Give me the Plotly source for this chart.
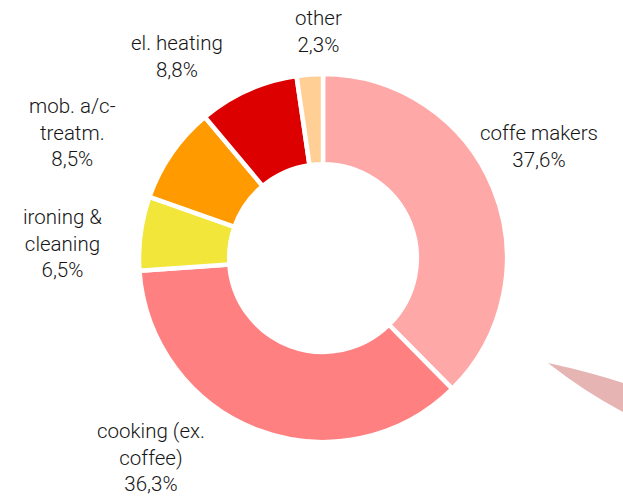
import plotly.graph_objects as go

categories = ["coffe makers", "cooking (ex.<br>coffee)", "ironing &<br>cleaning",
              "mob. a/c-<br>treatm.", "el. heating", "other"]
values = [37.6, 36.3, 6.5, 8.5, 8.8, 2.3]
colors = ["#FFA8A8", "#FF8080", "#F2E63A", "#FF9A00", "#DD0000", "#FFCF96"]

W, H = 623, 496
cx, cy, r = 323, 258, 184

fig = go.Figure(go.Pie(
    values=values,
    labels=[c.replace("<br>", " ") for c in categories],
    sort=False,
    direction="clockwise",
    rotation=0,
    hole=0.51,
    marker=dict(colors=colors, line=dict(color="white", width=4.5)),
    textinfo="none",
    hoverinfo="label+percent",
    showlegend=False,
    domain=dict(x=[(cx - r) / W, (cx + r) / W], y=[1 - (cy + r) / H, 1 - (cy - r) / H]),
))

# label block centres (pixels)
label_pos = [(539, 146), (151, 457), (62, 243), (72, 133), (177, 57), (318, 32)]
annotations = []
for cat, val, (px, py) in zip(categories, values, label_pos):
    num = f"{val:.1f}".replace(".", ",")
    txt = f"{cat}<br>{num}%"
    annotations.append(dict(
        x=px / W, y=1 - py / H, xref="paper", yref="paper",
        text=txt, showarrow=False, xanchor="center", yanchor="middle",
        align="center",
        font=dict(family="Roboto", size=20.5, color="#151515", weight=300),
    ))

def P(px, py):
    return f"{px / W:.4f},{1 - py / H:.4f}"

wedge = (f"M {P(548, 363)} Q {P(590, 372)} {P(623, 383)} "
         f"L {P(623, 412)} Q {P(585, 392)} {P(548, 363)} Z")

fig.update_layout(
    width=W, height=H,
    margin=dict(l=0, r=0, t=0, b=0),
    paper_bgcolor="white", plot_bgcolor="white",
    annotations=annotations,
    shapes=[dict(type="path", xref="paper", yref="paper", path=wedge,
                 fillcolor="#E7B4B4", line=dict(width=0), layer="above")],
)

fig.write_html("out.html", config={"displayModeBar": False},
               post_script="document.body.style.margin='0';")
